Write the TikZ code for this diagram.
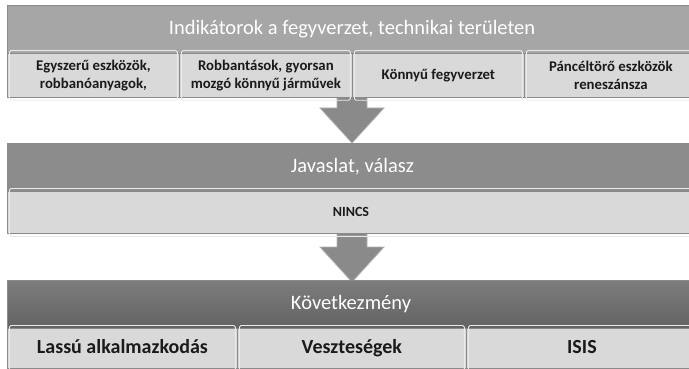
\documentclass[tikz,border=0pt]{standalone}
\usepackage{fontspec}
\setmainfont{Carlito}
\usetikzlibrary{calc}
\definecolor{hdA}{HTML}{A6A6A6}
\definecolor{hdB}{HTML}{8C8C8C}
\definecolor{hdC}{HTML}{6E6E6E}
\definecolor{cell}{HTML}{D9D9D9}
\definecolor{edge}{HTML}{8A8A8A}
\definecolor{arr}{HTML}{8A8A8A}
\definecolor{txt}{HTML}{1A1A1A}
\tikzset{
  band/.style={draw=edge, line width=0.8pt, inner sep=0pt, anchor=north west, text=white},
  cellbox/.style={draw=edge, line width=0.8pt, fill=cell, inner sep=0pt, anchor=north west, text=txt, align=center, font=\bfseries},
  hilite/.style={draw=white!45!cell, line width=0.9pt, rounded corners=1.5pt},
  blockarrow/.style={fill=arr, draw=gray!60, line width=0.8pt},
  headtext/.style={text=white, font=\fontsize{20.5}{24}\selectfont, text height=15pt, text depth=4pt},
}
\begin{document}
\begin{tikzpicture}[x=1pt,y=-1pt]
\clip (0,0) rectangle (689,369);
\fill[white] (0,0) rectangle (689,369);
% arrows first (behind bands)
\coordinate (a1top) at (352,97);
\coordinate (a1tip) at (352,143);
\coordinate (a2top) at (352,233);
\coordinate (a2tip) at (352,282);
\draw[blockarrow] ($(a1top)+(-15,-4)$) -- ($(a1top)+(15,-4)$) -- ($(a1tip)+(15,-35)$) -- ($(a1tip)+(32,-35)$) -- (a1tip) -- ($(a1tip)+(-32,-35)$) -- ($(a1tip)+(-15,-35)$) -- cycle;
\draw[blockarrow] ($(a2top)+(-15,-4)$) -- ($(a2top)+(15,-4)$) -- ($(a2tip)+(15,-35)$) -- ($(a2tip)+(32,-35)$) -- (a2tip) -- ($(a2tip)+(-32,-35)$) -- ($(a2tip)+(-15,-35)$) -- cycle;
% row 1
\node[band, fill=hdA, minimum width=690pt, minimum height=48pt] (h1) at (7,5) {};
\node[headtext] (h1t) at (352,29) {Indikátorok a fegyverzet, technikai területen};
\node[cellbox, minimum width=172pt, minimum height=44pt] (c11) at (7,53) {};
\node[cellbox, minimum width=173pt, minimum height=44pt] (c12) at (179,53) {};
\node[cellbox, minimum width=172pt, minimum height=44pt] (c13) at (352,53) {};
\node[cellbox, minimum width=173pt, minimum height=44pt] (c14) at (524,53) {};
\foreach \n/\t in {c11/{Egyszerű eszközök,\\robbanóanyagok,}, c12/{Robbantások, gyorsan\\mozgó könnyű járművek}, c13/{Könnyű fegyverzet}, c14/{Páncéltörő eszközök\\reneszánsza}}{
  \draw[hilite] ($(\n.north west)+(2.5,-2.5)$) rectangle ($(\n.south east)+(-2.5,2.5)$);
  \node[align=center, text=txt, font=\bfseries\fontsize{14.8}{18}\selectfont] at (\n.center) {\t};
}
% row 2
\node[band, fill=hdB, minimum width=690pt, minimum height=48pt] (h2) at (7,143) {};
\node[headtext] at (h2.center) {Javaslat, válasz};
\node[cellbox, minimum width=690pt, minimum height=42pt] (c21) at (7,191) {};
\draw[hilite] ($(c21.north west)+(2.5,-2.5)$) rectangle ($(c21.south east)+(-2.5,2.5)$);
\node[text=txt, font=\bfseries\fontsize{14}{17}\selectfont] at (351,212) {NINCS};
% row 3
\node[band, top color=hdC!90!white, bottom color=hdC!90!black, minimum width=690pt, minimum height=48pt] (h3) at (7,280) {};
\node[headtext] at (351,304) {Következmény};
\node[cellbox, minimum width=230pt, minimum height=40pt] (c31) at (7,328) {};
\node[cellbox, minimum width=229pt, minimum height=40pt] (c32) at (237,328) {};
\node[cellbox, minimum width=231pt, minimum height=40pt] (c33) at (466,328) {};
\foreach \n/\t in {c31/{Lassú alkalmazkodás}, c32/{Veszteségek}, c33/{ISIS}}{
  \draw[hilite] ($(\n.north west)+(2.5,-2.5)$) rectangle ($(\n.south east)+(-2.5,2.5)$);
  \node[text=txt, font=\bfseries\fontsize{20}{24}\selectfont, text height=14pt, text depth=4pt] at (\n.center) {\t};
}
\end{tikzpicture}
\end{document}
